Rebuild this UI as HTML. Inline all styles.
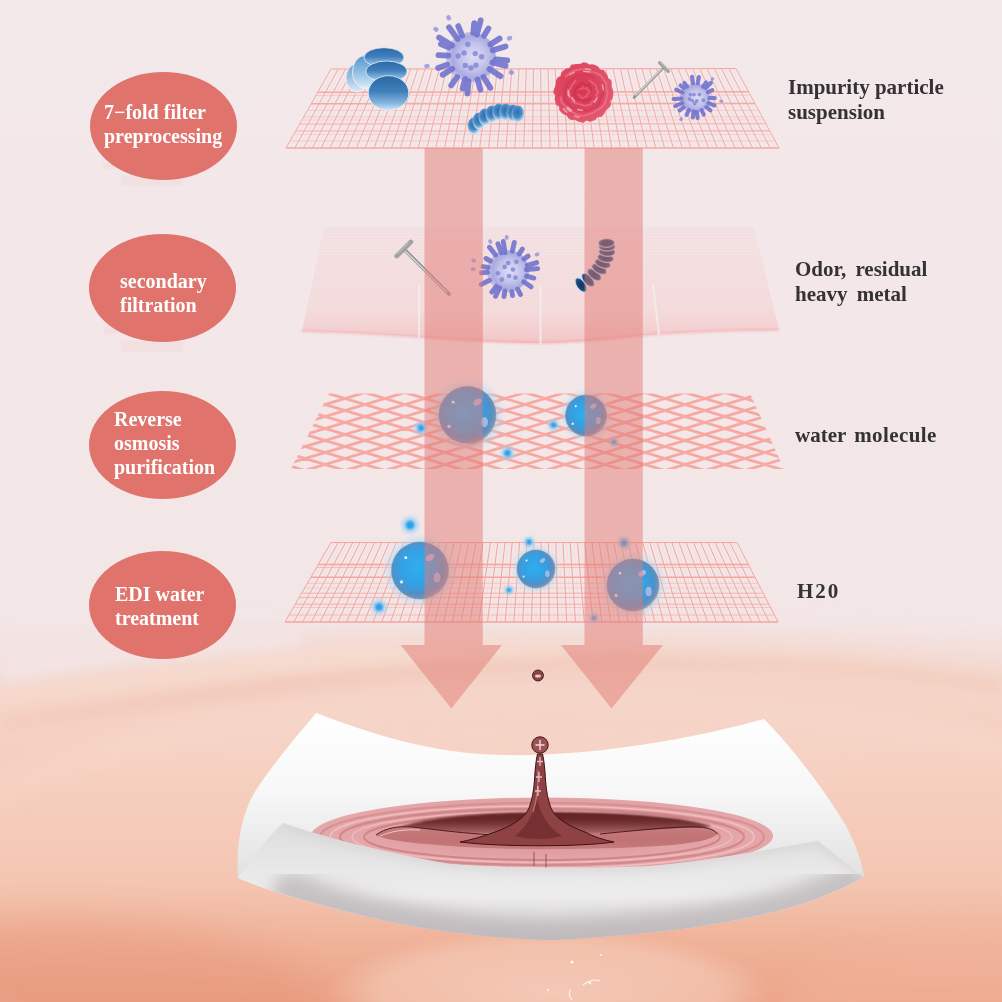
<!DOCTYPE html>
<html><head><meta charset="utf-8"><style>
html,body{margin:0;padding:0;width:1002px;height:1002px;overflow:hidden;background:#f3e8ea}
body{position:relative;font-family:"Liberation Serif",serif}
svg{position:absolute;left:0;top:0;display:block}
.ov{position:absolute;width:147px;height:108px;border-radius:50%;background:#e0736b}
.ov span{position:absolute;color:#fff;font-weight:bold;font-size:20px;line-height:24px;white-space:nowrap;will-change:transform}
.lab{position:absolute;color:#353233;font-weight:bold;font-size:21px;line-height:25px;white-space:nowrap;will-change:transform}
</style></head><body>
<svg width="1002" height="1002" viewBox="0 0 1002 1002"><defs><linearGradient id="bg" x1="0" y1="0" x2="0" y2="1002" gradientUnits="userSpaceOnUse">
<stop offset="0" stop-color="#f3e8ea"/>
<stop offset="0.62" stop-color="#f3e6e7"/>
<stop offset="0.655" stop-color="#f3dfdb"/>
<stop offset="0.70" stop-color="#f5d5c8"/>
<stop offset="0.77" stop-color="#f6d0c0"/>
<stop offset="0.88" stop-color="#f4c6b2"/>
<stop offset="0.935" stop-color="#f0b49b"/>
<stop offset="1" stop-color="#eba286"/>
</linearGradient><filter id="blur20" x="-30%" y="-30%" width="160%" height="160%"><feGaussianBlur stdDeviation="18"/></filter><filter id="blur6" x="-20%" y="-50%" width="140%" height="200%"><feGaussianBlur stdDeviation="6"/></filter><filter id="blur8" x="-20%" y="-20%" width="140%" height="140%"><feGaussianBlur stdDeviation="8"/></filter><filter id="blur4" x="-20%" y="-20%" width="140%" height="140%"><feGaussianBlur stdDeviation="4"/></filter><filter id="blur2" x="-30%" y="-30%" width="160%" height="160%"><feGaussianBlur stdDeviation="2"/></filter><filter id="blur1" x="-30%" y="-30%" width="160%" height="160%"><feGaussianBlur stdDeviation="1"/></filter><clipPath id="lowclip"><rect x="0" y="650" width="1002" height="352"/></clipPath><radialGradient id="refl" cx="0.5" cy="0.5" r="0.5">
<stop offset="0" stop-color="#f5cfbe" stop-opacity="0.85"/>
<stop offset="0.75" stop-color="#f4c8b5" stop-opacity="0.7"/>
<stop offset="1" stop-color="#f4c8b5" stop-opacity="0"/>
</radialGradient><linearGradient id="sheet" x1="0" y1="227" x2="0" y2="345" gradientUnits="userSpaceOnUse">
<stop offset="0" stop-color="#f9d0d0" stop-opacity="0.18"/>
<stop offset="0.7" stop-color="#f7c4c4" stop-opacity="0.3"/>
<stop offset="0.93" stop-color="#f5b0b0" stop-opacity="0.5"/>
<stop offset="1" stop-color="#f3a0a0" stop-opacity="0.6"/>
</linearGradient><clipPath id="sheetclip"><path d="M324 227L754 227L779 330C740 330 700 331 660 334C620 337 580 343 540 343C500 343 460 340 420 337C380 334 340 332 302 331Z"/></clipPath><clipPath id="meshclip"><path d="M329 393.5L750 393.5L784 469L291 469Z"/></clipPath><filter id="soft06" x="-20%" y="-20%" width="140%" height="140%"><feGaussianBlur stdDeviation="0.6"/></filter><filter id="soft05" x="-20%" y="-20%" width="140%" height="140%"><feGaussianBlur stdDeviation="0.5"/></filter><radialGradient id="bc" cx="0.5" cy="0.25" r="0.8">
<stop offset="0" stop-color="#2e6fae"/><stop offset="0.45" stop-color="#4f8dc6"/><stop offset="0.8" stop-color="#9cc6e6"/><stop offset="1" stop-color="#dcedf8"/>
</radialGradient><linearGradient id="dk" x1="0" y1="0" x2="0" y2="1">
<stop offset="0" stop-color="#2c68a4"/><stop offset="0.45" stop-color="#3f7fbb"/><stop offset="0.8" stop-color="#86b7df"/><stop offset="1" stop-color="#d3e9f7"/>
</linearGradient><linearGradient id="lt" x1="0" y1="0" x2="0" y2="1">
<stop offset="0" stop-color="#5b95c9"/><stop offset="0.5" stop-color="#8ebde2"/><stop offset="1" stop-color="#dcedf8"/>
</linearGradient><radialGradient id="vg11" cx="0.55" cy="0.5" r="0.5">
<stop offset="0" stop-color="#dedef5"/><stop offset="0.55" stop-color="#c2c2ea"/><stop offset="0.85" stop-color="#a9aadf"/><stop offset="1" stop-color="#a2a3dc" stop-opacity="0.6"/>
</radialGradient><radialGradient id="ch" cx="0.45" cy="0.4" r="0.6">
<stop offset="0" stop-color="#2c6dac"/><stop offset="0.55" stop-color="#4a8bc6"/><stop offset="1" stop-color="#d8ecf8"/>
</radialGradient><radialGradient id="rb" cx="0.45" cy="0.45" r="0.55">
<stop offset="0" stop-color="#d8354f"/><stop offset="0.7" stop-color="#de4862"/><stop offset="1" stop-color="#e25b72"/>
</radialGradient><radialGradient id="vg23" cx="0.55" cy="0.5" r="0.5">
<stop offset="0" stop-color="#dedef5"/><stop offset="0.55" stop-color="#c2c2ea"/><stop offset="0.85" stop-color="#a9aadf"/><stop offset="1" stop-color="#a2a3dc" stop-opacity="0.6"/>
</radialGradient><radialGradient id="vg31" cx="0.55" cy="0.5" r="0.5">
<stop offset="0" stop-color="#dedef5"/><stop offset="0.55" stop-color="#c2c2ea"/><stop offset="0.85" stop-color="#a9aadf"/><stop offset="1" stop-color="#a2a3dc" stop-opacity="0.6"/>
</radialGradient><radialGradient id="ch2" cx="0.5" cy="0.5" r="0.55">
<stop offset="0" stop-color="#0f335e"/><stop offset="0.55" stop-color="#1a4577"/><stop offset="1" stop-color="#4a7db3"/>
</radialGradient><radialGradient id="bub" cx="0.45" cy="0.45" r="0.58">
<stop offset="0" stop-color="#1eaaf0"/><stop offset="0.5" stop-color="#1f9ae4"/><stop offset="0.8" stop-color="#3f86c4"/><stop offset="0.93" stop-color="#6d88a8"/><stop offset="1" stop-color="#a9b6c8"/>
</radialGradient><radialGradient id="glow" cx="0.5" cy="0.5" r="0.5">
<stop offset="0" stop-color="#7cc8f2" stop-opacity="0.8"/><stop offset="0.72" stop-color="#9ad4f4" stop-opacity="0.55"/><stop offset="1" stop-color="#c8e6f6" stop-opacity="0"/>
</radialGradient><linearGradient id="clothBack" x1="0" y1="715" x2="0" y2="870" gradientUnits="userSpaceOnUse">
<stop offset="0" stop-color="#ffffff"/><stop offset="0.5" stop-color="#f7f7f7"/><stop offset="1" stop-color="#e3e3e4"/>
</linearGradient><linearGradient id="clothFront" x1="0" y1="825" x2="0" y2="942" gradientUnits="userSpaceOnUse">
<stop offset="0" stop-color="#dfdddd"/><stop offset="0.385" stop-color="#e9e8e8"/><stop offset="0.6" stop-color="#eeeded"/><stop offset="0.8" stop-color="#dedbdc"/><stop offset="1" stop-color="#c2bdbf"/>
</linearGradient><radialGradient id="rip" cx="0.5" cy="0.4" r="0.5">
<stop offset="0" stop-color="#d58f92"/><stop offset="0.6" stop-color="#df9ea1"/><stop offset="0.9" stop-color="#e5a8aa"/><stop offset="1" stop-color="#e4a6a8"/>
</radialGradient><linearGradient id="ripdark" x1="0" y1="810" x2="0" y2="836" gradientUnits="userSpaceOnUse">
<stop offset="0" stop-color="#5a2020"/><stop offset="0.45" stop-color="#6e2c2c"/><stop offset="1" stop-color="#b67474"/>
</linearGradient><linearGradient id="crater" x1="0" y1="826" x2="0" y2="852" gradientUnits="userSpaceOnUse">
<stop offset="0" stop-color="#c97d7f"/><stop offset="0.5" stop-color="#c07274"/><stop offset="1" stop-color="#c87c7e"/>
</linearGradient><clipPath id="flapclip"><path d="M283 823C320 836 380 852 450 864C500 868 600 869 650 866C700 862 760 851 818 841C835 855 850 866 864 877C830 895 800 907 760 915C720 924 680 931 600 937C580 939 560 940 550 940C490 939 420 930 360 915C310 902 265 890 238 878C250 860 265 840 283 823Z"/></clipPath></defs><rect width="1002" height="1002" fill="url(#bg)"/><ellipse cx="540" cy="700" rx="520" ry="65" fill="#f5d4c7" opacity="0.7" filter="url(#blur20)"/><path d="M0 625L300 625L300 648C200 656 100 668 0 684Z" fill="#f3e4e4" opacity="0.9" filter="url(#blur6)"/><path d="M0 724C150 698 350 670 560 662C750 657 900 670 1002 688" stroke="#eebfae" stroke-width="16" fill="none" opacity="0.45" filter="url(#blur6)"/><path d="M0 696C150 676 350 652 560 646" stroke="#f7dccf" stroke-width="12" fill="none" opacity="0.5" filter="url(#blur6)"/><g clip-path="url(#lowclip)"><g filter="url(#blur8)"><ellipse cx="560" cy="900" rx="660" ry="200" fill="none" stroke="#fae0d3" stroke-width="14" opacity="0.25"/><ellipse cx="560" cy="900" rx="800" ry="250" fill="none" stroke="#f9dccd" stroke-width="18" opacity="0.18"/><ellipse cx="560" cy="900" rx="730" ry="225" fill="none" stroke="#e8a48c" stroke-width="10" opacity="0.1"/></g></g><ellipse cx="60" cy="1010" rx="260" ry="90" fill="#e48f72" opacity="0.35" filter="url(#blur20)"/><ellipse cx="990" cy="1010" rx="220" ry="70" fill="#f2b8a0" opacity="0.45" filter="url(#blur20)"/><ellipse cx="550" cy="992" rx="225" ry="62" fill="url(#refl)"/><g fill="#fff" opacity="0.85"><circle cx="572" cy="962" r="1.6"/><circle cx="601" cy="955" r="1"/><circle cx="590" cy="983" r="1.2"/><circle cx="548" cy="990" r="1"/></g><path d="M583 985Q592 978 600 981M570 990Q568 996 572 1000" stroke="#fff" stroke-width="1.3" fill="none" opacity="0.7"/><g fill="#f0d2d2" opacity="0.3" filter="url(#blur1)"><rect x="103" y="163" width="12" height="6"/><rect x="121" y="176" width="62" height="10"/><rect x="104" y="326" width="14" height="8"/><rect x="121" y="341" width="62" height="11"/></g><path d="M331 69L286 148M338.2 69L294.8 148M345.5 69L303.6 148M352.7 69L312.4 148M359.9 69L321.2 148M367.2 69L330 148M374.4 68.9L338.8 148M381.6 68.9L347.6 148M388.9 68.9L356.4 148M396.1 68.9L365.2 148M403.3 68.9L374 148M410.6 68.9L382.8 148M417.8 68.9L391.6 148M425 68.9L400.4 148M432.2 68.9L409.2 148M439.5 68.9L418.1 148M446.7 68.9L426.9 148M453.9 68.8L435.7 148M461.2 68.8L444.5 148M468.4 68.8L453.3 148M475.6 68.8L462.1 148M482.9 68.8L470.9 148M490.1 68.8L479.7 148M497.3 68.8L488.5 148M504.6 68.8L497.3 148M511.8 68.8L506.1 148M519 68.8L514.9 148M526.3 68.8L523.7 148M533.5 68.8L532.5 148M540.7 68.7L541.3 148M548 68.7L550.1 148M555.2 68.7L558.9 148M562.4 68.7L567.7 148M569.7 68.7L576.5 148M576.9 68.7L585.3 148M584.1 68.7L594.1 148M591.4 68.7L602.9 148M598.6 68.7L611.7 148M605.8 68.7L620.5 148M613.1 68.7L629.3 148M620.3 68.6L638.1 148M627.5 68.6L646.9 148M634.8 68.6L655.8 148M642 68.6L664.6 148M649.2 68.6L673.4 148M656.4 68.6L682.2 148M663.7 68.6L691 148M670.9 68.6L699.8 148M678.1 68.6L708.6 148M685.4 68.6L717.4 148M692.6 68.6L726.2 148M699.8 68.5L735 148M707.1 68.5L743.8 148M714.3 68.5L752.6 148M721.5 68.5L761.4 148M728.8 68.5L770.2 148M736 68.5L779 148" stroke="#f7a9a3" stroke-width="1.0" fill="none"/><path d="M334.6 69L290.4 148M341.8 69L299.2 148M349.1 69L308 148M356.3 69L316.8 148M363.5 69L325.6 148M370.8 69L334.4 148M378 68.9L343.2 148M385.2 68.9L352 148M392.5 68.9L360.8 148M399.7 68.9L369.6 148M406.9 68.9L378.4 148M414.2 68.9L387.2 148M421.4 68.9L396 148M428.6 68.9L404.8 148M435.9 68.9L413.7 148M443.1 68.9L422.5 148M450.3 68.9L431.3 148M457.6 68.8L440.1 148M464.8 68.8L448.9 148M472 68.8L457.7 148M479.3 68.8L466.5 148M486.5 68.8L475.3 148M493.7 68.8L484.1 148M501 68.8L492.9 148M508.2 68.8L501.7 148M515.4 68.8L510.5 148M522.7 68.8L519.3 148M529.9 68.8L528.1 148M537.1 68.7L536.9 148M544.3 68.7L545.7 148M551.6 68.7L554.5 148M558.8 68.7L563.3 148M566 68.7L572.1 148M573.3 68.7L580.9 148M580.5 68.7L589.7 148M587.7 68.7L598.5 148M595 68.7L607.3 148M602.2 68.7L616.1 148M609.4 68.7L624.9 148M616.7 68.6L633.7 148M623.9 68.6L642.5 148M631.1 68.6L651.3 148M638.4 68.6L660.2 148M645.6 68.6L669 148M652.8 68.6L677.8 148M660.1 68.6L686.6 148M667.3 68.6L695.4 148M674.5 68.6L704.2 148M681.8 68.6L713 148M689 68.6L721.8 148M696.2 68.5L730.6 148M703.5 68.5L739.4 148M710.7 68.5L748.2 148M717.9 68.5L757 148M725.2 68.5L765.8 148M732.4 68.5L774.6 148" stroke="#f7a9a3" stroke-width="0.6" fill="none" opacity="0.2"/><path d="M331 69L736 68.5" stroke="#f7a9a3" stroke-width="1.2" opacity="1"/><path d="M317.8 92.2L748.6 91.8" stroke="#f7a9a3" stroke-width="1.5" opacity="1"/><path d="M316 95.4L750.4 95.1" stroke="#f7a9a3" stroke-width="0.8" opacity="0.6"/><path d="M311.2 103.8L754.9 103.5" stroke="#f7a9a3" stroke-width="1.6" opacity="1"/><path d="M307.4 110.5L758.6 110.3" stroke="#f7a9a3" stroke-width="0.8" opacity="0.6"/><path d="M303.7 117L762.1 116.8" stroke="#f7a9a3" stroke-width="0.8" opacity="0.6"/><path d="M301.9 120L763.8 119.8" stroke="#f7a9a3" stroke-width="0.7" opacity="0.5"/><path d="M299.7 124L765.9 123.8" stroke="#f7a9a3" stroke-width="1.1" opacity="0.9"/><path d="M295.7 131L769.7 130.9" stroke="#f7a9a3" stroke-width="1.1" opacity="0.9"/><path d="M293.7 134.5L771.7 134.4" stroke="#f7a9a3" stroke-width="0.7" opacity="0.5"/><path d="M290 141L775.2 141" stroke="#f7a9a3" stroke-width="0.8" opacity="0.6"/><path d="M286 148L779 148" stroke="#f7a9a3" stroke-width="1.3" opacity="1"/><path d="M324 227L754 227L779 330C740 330 700 331 660 334C620 337 580 343 540 343C500 343 460 340 420 337C380 334 340 332 302 331Z" fill="url(#sheet)"/><path d="M300 229L780 229M300 232L780 232M300 235L780 235M300 238L780 238M300 241L780 241M300 244L780 244M300 247L780 247M300 250L780 250M300 253L780 253M300 256L780 256M300 259L780 259M300 262L780 262M300 265L780 265M300 268L780 268M300 271L780 271M300 274L780 274M300 277L780 277M300 280L780 280M300 283L780 283M300 286L780 286M300 289L780 289M300 292L780 292M300 295L780 295M300 298L780 298M300 301L780 301M300 304L780 304M300 307L780 307M300 310L780 310M300 313L780 313M300 316L780 316M300 319L780 319M300 322L780 322M300 325L780 325M300 328L780 328M300 331L780 331M300 334L780 334M300 337L780 337M300 340L780 340M300 343L780 343" stroke="#f4c0c0" stroke-width="0.6" opacity="0.2" clip-path="url(#sheetclip)"/><path d="M302 331C340 332 380 334 420 337C460 340 500 343 540 343C580 343 620 337 660 334C700 331 740 330 779 330" stroke="#f3a6a6" stroke-width="2.2" fill="none" opacity="0.6" filter="url(#blur1)"/><path d="M419.2 285L419 338M540.5 285L540.5 344M653 285L659 335" stroke="#f6eef0" stroke-width="2" opacity="0.8"/><path d="M250 -326L800 -161M250 -161L800 -326M250 -314L800 -149M250 -149L800 -314M250 -302L800 -137M250 -137L800 -302M250 -290L800 -125M250 -125L800 -290M250 -278L800 -113M250 -113L800 -278M250 -266L800 -101M250 -101L800 -266M250 -254L800 -89M250 -89L800 -254M250 -242L800 -77M250 -77L800 -242M250 -230L800 -65M250 -65L800 -230M250 -218L800 -53M250 -53L800 -218M250 -206L800 -41M250 -41L800 -206M250 -194L800 -29M250 -29L800 -194M250 -182L800 -17M250 -17L800 -182M250 -170L800 -5M250 -5L800 -170M250 -158L800 7M250 7L800 -158M250 -146L800 19M250 19L800 -146M250 -134L800 31M250 31L800 -134M250 -122L800 43M250 43L800 -122M250 -110L800 55M250 55L800 -110M250 -98L800 67M250 67L800 -98M250 -86L800 79M250 79L800 -86M250 -74L800 91M250 91L800 -74M250 -62L800 103M250 103L800 -62M250 -50L800 115M250 115L800 -50M250 -38L800 127M250 127L800 -38M250 -26L800 139M250 139L800 -26M250 -14L800 151M250 151L800 -14M250 -2L800 163M250 163L800 -2M250 10L800 175M250 175L800 10M250 22L800 187M250 187L800 22M250 34L800 199M250 199L800 34M250 46L800 211M250 211L800 46M250 58L800 223M250 223L800 58M250 70L800 235M250 235L800 70M250 82L800 247M250 247L800 82M250 94L800 259M250 259L800 94M250 106L800 271M250 271L800 106M250 118L800 283M250 283L800 118M250 130L800 295M250 295L800 130M250 142L800 307M250 307L800 142M250 154L800 319M250 319L800 154M250 166L800 331M250 331L800 166M250 178L800 343M250 343L800 178M250 190L800 355M250 355L800 190M250 202L800 367M250 367L800 202M250 214L800 379M250 379L800 214M250 226L800 391M250 391L800 226M250 238L800 403M250 403L800 238M250 250L800 415M250 415L800 250M250 262L800 427M250 427L800 262M250 274L800 439M250 439L800 274M250 286L800 451M250 451L800 286M250 298L800 463M250 463L800 298M250 310L800 475M250 475L800 310M250 322L800 487M250 487L800 322M250 334L800 499M250 499L800 334M250 346L800 511M250 511L800 346M250 358L800 523M250 523L800 358M250 370L800 535M250 535L800 370M250 382L800 547M250 547L800 382M250 394L800 559M250 559L800 394M250 406L800 571M250 571L800 406M250 418L800 583M250 583L800 418M250 430L800 595M250 595L800 430M250 442L800 607M250 607L800 442M250 454L800 619M250 619L800 454M250 466L800 631M250 631L800 466M250 478L800 643M250 643L800 478M250 490L800 655M250 655L800 490M250 502L800 667M250 667L800 502M250 514L800 679M250 679L800 514M250 526L800 691M250 691L800 526M250 538L800 703M250 703L800 538M250 550L800 715M250 715L800 550M250 562L800 727M250 727L800 562M250 574L800 739M250 739L800 574M250 586L800 751M250 751L800 586M250 598L800 763M250 763L800 598M250 610L800 775M250 775L800 610M250 622L800 787M250 787L800 622M250 634L800 799M250 799L800 634M250 646L800 811M250 811L800 646M250 658L800 823M250 823L800 658M250 670L800 835M250 835L800 670M250 682L800 847M250 847L800 682M250 694L800 859M250 859L800 694M250 706L800 871M250 871L800 706M250 718L800 883M250 883L800 718M250 730L800 895M250 895L800 730M250 742L800 907M250 907L800 742M250 754L800 919M250 919L800 754M250 766L800 931M250 931L800 766M250 778L800 943M250 943L800 778M250 790L800 955M250 955L800 790M250 802L800 967M250 967L800 802M250 814L800 979M250 979L800 814M250 826L800 991M250 991L800 826M250 838L800 1003M250 1003L800 838M250 850L800 1015M250 1015L800 850M250 862L800 1027M250 1027L800 862M250 874L800 1039M250 1039L800 874M250 886L800 1051M250 1051L800 886M250 898L800 1063M250 1063L800 898M250 910L800 1075M250 1075L800 910M250 922L800 1087M250 1087L800 922M250 934L800 1099M250 1099L800 934M250 946L800 1111M250 1111L800 946M250 958L800 1123M250 1123L800 958M250 970L800 1135M250 1135L800 970M250 982L800 1147M250 1147L800 982M250 994L800 1159M250 1159L800 994M250 1006L800 1171M250 1171L800 1006M250 1018L800 1183M250 1183L800 1018M250 1030L800 1195M250 1195L800 1030M250 1042L800 1207M250 1207L800 1042M250 1054L800 1219M250 1219L800 1054M250 1066L800 1231M250 1231L800 1066M250 1078L800 1243M250 1243L800 1078M250 1090L800 1255M250 1255L800 1090M250 1102L800 1267M250 1267L800 1102" stroke="#f7a8a2" stroke-width="2.8" fill="none" clip-path="url(#meshclip)"/><path d="M331 542.5L285 622M338.2 542.5L293.8 622M345.5 542.5L302.6 622M352.8 542.5L311.4 622M360 542.5L320.2 622M367.2 542.5L329 622M374.5 542.5L337.8 622M381.8 542.5L346.6 622M389 542.5L355.4 622M396.2 542.5L364.2 622M403.5 542.5L373 622M410.8 542.5L381.8 622M418 542.5L390.6 622M425.2 542.5L399.4 622M432.5 542.5L408.2 622M439.8 542.5L417.1 622M447 542.5L425.9 622M454.2 542.5L434.7 622M461.5 542.5L443.5 622M468.8 542.5L452.3 622M476 542.5L461.1 622M483.2 542.5L469.9 622M490.5 542.5L478.7 622M497.8 542.5L487.5 622M505 542.5L496.3 622M512.2 542.5L505.1 622M519.5 542.5L513.9 622M526.8 542.5L522.7 622M534 542.5L531.5 622M541.2 542.5L540.3 622M548.5 542.5L549.1 622M555.8 542.5L557.9 622M563 542.5L566.7 622M570.2 542.5L575.5 622M577.5 542.5L584.3 622M584.8 542.5L593.1 622M592 542.5L601.9 622M599.2 542.5L610.7 622M606.5 542.5L619.5 622M613.8 542.5L628.3 622M621 542.5L637.1 622M628.2 542.5L645.9 622M635.5 542.5L654.8 622M642.8 542.5L663.6 622M650 542.5L672.4 622M657.2 542.5L681.2 622M664.5 542.5L690 622M671.8 542.5L698.8 622M679 542.5L707.6 622M686.2 542.5L716.4 622M693.5 542.5L725.2 622M700.8 542.5L734 622M708 542.5L742.8 622M715.2 542.5L751.6 622M722.5 542.5L760.4 622M729.8 542.5L769.2 622M737 542.5L778 622" stroke="#f6a49e" stroke-width="1.0" fill="none"/><path d="M334.6 542.5L289.4 622M341.9 542.5L298.2 622M349.1 542.5L307 622M356.4 542.5L315.8 622M363.6 542.5L324.6 622M370.9 542.5L333.4 622M378.1 542.5L342.2 622M385.4 542.5L351 622M392.6 542.5L359.8 622M399.9 542.5L368.6 622M407.1 542.5L377.4 622M414.4 542.5L386.2 622M421.6 542.5L395 622M428.9 542.5L403.8 622M436.1 542.5L412.7 622M443.4 542.5L421.5 622M450.6 542.5L430.3 622M457.9 542.5L439.1 622M465.1 542.5L447.9 622M472.4 542.5L456.7 622M479.6 542.5L465.5 622M486.9 542.5L474.3 622M494.1 542.5L483.1 622M501.4 542.5L491.9 622M508.6 542.5L500.7 622M515.9 542.5L509.5 622M523.1 542.5L518.3 622M530.4 542.5L527.1 622M537.6 542.5L535.9 622M544.9 542.5L544.7 622M552.1 542.5L553.5 622M559.4 542.5L562.3 622M566.6 542.5L571.1 622M573.9 542.5L579.9 622M581.1 542.5L588.7 622M588.4 542.5L597.5 622M595.6 542.5L606.3 622M602.9 542.5L615.1 622M610.1 542.5L623.9 622M617.4 542.5L632.7 622M624.6 542.5L641.5 622M631.9 542.5L650.3 622M639.1 542.5L659.2 622M646.4 542.5L668 622M653.6 542.5L676.8 622M660.9 542.5L685.6 622M668.1 542.5L694.4 622M675.4 542.5L703.2 622M682.6 542.5L712 622M689.9 542.5L720.8 622M697.1 542.5L729.6 622M704.4 542.5L738.4 622M711.6 542.5L747.2 622M718.9 542.5L756 622M726.1 542.5L764.8 622M733.4 542.5L773.6 622" stroke="#f6a49e" stroke-width="0.6" fill="none" opacity="0.2"/><path d="M331 542.5L737 542.5" stroke="#f6a49e" stroke-width="1.2" opacity="1"/><path d="M318.2 564.6L748.4 564.6" stroke="#f6a49e" stroke-width="1.5" opacity="1"/><path d="M316.6 567.4L749.8 567.4" stroke="#f6a49e" stroke-width="0.9" opacity="0.7"/><path d="M310.9 577.3L754.9 577.3" stroke="#f6a49e" stroke-width="1.6" opacity="1"/><path d="M307.4 583.3L758 583.3" stroke="#f6a49e" stroke-width="0.8" opacity="0.6"/><path d="M304.7 588L760.5 588" stroke="#f6a49e" stroke-width="0.7" opacity="0.5"/><path d="M301.7 593.2L763.1 593.2" stroke="#f6a49e" stroke-width="1.0" opacity="0.8"/><path d="M299.1 597.6L765.4 597.6" stroke="#f6a49e" stroke-width="1.0" opacity="0.8"/><path d="M295.3 604.2L768.8 604.2" stroke="#f6a49e" stroke-width="1.0" opacity="0.8"/><path d="M293.4 607.4L770.5 607.4" stroke="#f6a49e" stroke-width="0.8" opacity="0.6"/><path d="M289.1 615L774.4 615" stroke="#f6a49e" stroke-width="0.9" opacity="0.7"/><path d="M285 622L778 622" stroke="#f6a49e" stroke-width="1.3" opacity="1"/><g filter="url(#soft05)"><ellipse cx="357" cy="78" rx="11" ry="14" fill="url(#lt)" opacity="0.85" stroke="#eef7fc" stroke-width="0.8"/><ellipse cx="365" cy="72" rx="12.5" ry="16.5" fill="url(#lt)" stroke="#eef7fc" stroke-width="0.8"/><ellipse cx="384" cy="57.5" rx="20" ry="9.8" fill="url(#dk)" stroke="#e6f2fa" stroke-width="0.8"/><ellipse cx="386.5" cy="71.5" rx="20.5" ry="10.5" fill="url(#dk)" stroke="#e6f2fa" stroke-width="0.8"/><ellipse cx="388.5" cy="93" rx="20.3" ry="17.3" fill="url(#dk)" stroke="#e6f2fa" stroke-width="0.8"/></g><g filter="url(#soft06)"><circle cx="471" cy="57" r="25" fill="url(#vg11)"/><circle cx="481.6" cy="56.7" r="2.7" fill="#8083d3" opacity="0.8"/><circle cx="475.9" cy="65.3" r="2.7" fill="#8083d3" opacity="0.8"/><circle cx="470.9" cy="67.9" r="2.7" fill="#8083d3" opacity="0.8"/><circle cx="465.3" cy="65.4" r="2.7" fill="#8083d3" opacity="0.8"/><circle cx="458.1" cy="56" r="2.7" fill="#8083d3" opacity="0.8"/><circle cx="464.1" cy="52.9" r="2.7" fill="#8083d3" opacity="0.8"/><circle cx="467.8" cy="44.3" r="2.7" fill="#8083d3" opacity="0.8"/><circle cx="475.2" cy="53.6" r="2.7" fill="#8083d3" opacity="0.8"/><path d="M495.8 59.4L507.3 60.5M492.4 62.4L505.5 65.7M489.5 69L500.5 76.2M483.5 77L490.3 87.8M477.5 79.5L480.4 89.6M468.6 81.4L467.4 93.6M465.1 79.1L462.6 88.4M457 77.1L451.2 85.4M452.3 68.7L442.7 74.7M447.3 64.8L438.1 67.9M448.2 55.7L438.5 55.2M448.7 47.4L440.9 44M452.1 45.4L439.1 37.5M457.5 38.9L449 27.3M462.1 35.5L458.3 26.1M473.3 32.7L474.2 23.1M476.9 34.6L480.6 20.4M484 35.7L488.4 28.5M490.3 44.5L499.6 38.5M492.7 50.3L505.5 46.4" stroke="#6e71cf" stroke-width="5.8" stroke-linecap="round" opacity="0.88"/><path d="M510.9 72.3L511.9 72.6M427.4 65.9L426.4 66.1M436.3 29.6L435.5 29M448.9 18.3L448.4 17.4M509.1 38.4L510 38" stroke="#8285d8" stroke-width="4.4" stroke-linecap="round" opacity="0.7"/></g><g filter="url(#soft05)"><ellipse cx="474" cy="126" rx="6.5" ry="8.5" fill="url(#ch)"/><ellipse cx="479" cy="121" rx="6.5" ry="8.5" fill="url(#ch)"/><ellipse cx="485" cy="117" rx="6.5" ry="8.5" fill="url(#ch)"/><ellipse cx="492" cy="114" rx="6.5" ry="8.5" fill="url(#ch)"/><ellipse cx="499" cy="112" rx="6.5" ry="8.5" fill="url(#ch)"/><ellipse cx="506" cy="112" rx="6.5" ry="8.5" fill="url(#ch)"/><ellipse cx="513" cy="113" rx="6.5" ry="8.5" fill="url(#ch)"/><ellipse cx="518" cy="114" rx="6.5" ry="8.5" fill="url(#ch)"/></g><g filter="url(#soft05)"><path d="M613.5 92.5L613.1 95.6L612.6 98.7L610.5 101.3L611.1 104.8L609.4 107.5L607 109.5L605.1 111.9L603.6 114.8L601.2 116.9L597.7 117.1L595.6 119.7L592.7 120.9L589.7 121.8L586.5 120.6L583.5 122.7L580.4 122.2L577.4 121.2L574.6 119.8L571.2 120.1L568.5 118.5L566.7 115.6L563.7 114.5L561.3 112.5L559.2 110.1L559.1 106.6L555.9 104.8L555.2 101.7L554.6 98.6L555.2 95.5L553.2 92.5L553.8 89.4L555.2 86.5L555.7 83.5L556 80.3L557.6 77.5L560.6 75.8L561.2 72.4L563.6 70.4L566 68.4L569.4 68L571.1 64.7L574.3 64.2L577.4 64L580.5 63.8L583.5 62.2L586.6 62.8L589.4 64.6L592.7 64.2L595.7 65.2L598.4 66.7L600.1 69.6L603.8 70L605.6 72.6L607.3 75.2L608.3 78.2L611.3 80.1L611.7 83.3L611.7 86.5L612.7 89.4Z" fill="url(#rb)"/><path d="M565.9 76.3L570 73L574.7 70.4L580.1 69.5L585.5 69L590.3 71.6L595.4 72.8L600.3 75L603.4 79.3L606.4 83.5L606.4 88.7L607.4 93.6L606.2 98.4L604.8 103.2L601.8 107.4L597.3 110L593.1 112.8L588.2 114.4L583.1 116.1L577.7 115.1L573.2 112.4L568.1 110.7L565.3 106.3L561.7 102.6L560.9 97.6" stroke="#f07f95" stroke-width="2.2" fill="none" opacity="0.55" stroke-linecap="round"/><path d="M603.2 92.7L601.4 96.5L600.1 100.1L599.1 104.3L595.9 107.1L591.7 108.3L588.2 110.9L583.9 110.6L579.6 110.5L576 108.5L571.6 107.6L568.8 104.5L565.9 101.4L564.4 97.5L564.9 93.4L565 89.5L566.5 85.9L568.5 82.6L571.3 79.8L574.2 77.2L577.8 75.1L582 75.4L586.2 74.3L590.1 75.9L593.7 77.7" stroke="#c93350" stroke-width="2.0" fill="none" opacity="0.5" stroke-linecap="round"/><path d="M589.3 80.4L591.7 82.2L594.2 83.9L596.3 86.1L596.2 89.3L598.4 91.9L596.3 94.7L596.9 97.8L595.5 100.6L592.2 101.7L590.7 104.6L587.5 105L584.5 105.9L581.6 104.7L578.8 104.1L576.1 103.1L572.7 102.3L572 99.1L569.7 96.9L568.7 94L568.7 90.9L570.6 88.2L571.9 85.6L573.5 83.2L575.6 80.9" stroke="#ef8599" stroke-width="1.8" fill="none" opacity="0.5" stroke-linecap="round"/><path d="M590.9 98.2L589.5 99.6L587.7 100.8L585.4 100L583.6 101.9L581.8 100.1L579.9 100L577.9 99.5L576 98.5L575.8 96.3L574 94.9L574.4 92.9L575 91.1L575.5 89.3L576.7 87.9L578 86.7L579.4 85.6L580.8 84L582.8 83L584.7 84.7L586.4 85.3L589 84.6L590 86.5L591 88.2L591.5 89.9" stroke="#c42e4b" stroke-width="2.0" fill="none" opacity="0.55" stroke-linecap="round"/><path d="M578.8 89.5L580.1 89.1L581 88.6L582.2 88.8L582.9 87L584 88.7L585.2 88L586.5 87.9L586.5 89.6L588.1 89.7L589 90.6L588.7 91.8L589.1 93L587.5 93.7L587.7 94.8L586.7 95.3L586.7 96.9L585.2 96.5L584.3 97.1L583.2 98.2L581.9 97.7L580.7 97.5L580.3 96L579.5 95.3L578.5 94.6" stroke="#ec7a90" stroke-width="1.6" fill="none" opacity="0.5" stroke-linecap="round"/><path d="M569.3 96.9L568.6 92M574.8 101.6L571.9 97.5M566.8 112.3L563.3 108.8M602.2 85L603.5 89.9M568.1 95.1L568.1 90.1M597 98L594.3 102.2M585.8 68.6L590.7 69.6M570.9 111.4L567.1 108.2M584.3 71.3L589.2 72M569.9 74.8L574.2 72.2M571.5 110.2L567.7 107M582.5 110.4L577.6 109.5M583.6 71.3L588.5 71.9M579.1 117.4L574.3 116" stroke="#f7c2cc" stroke-width="1.3" opacity="0.75" stroke-linecap="round"/></g><g filter="url(#soft05)"><path d="M664 67L634 97.5" stroke="#959595" stroke-width="2.6" stroke-linecap="round"/><path d="M661.5 68.8L635.9 95.2" stroke="#dcdcdc" stroke-width="1.2" stroke-linecap="round"/><path d="M659.7 62.8L668.3 71.2" stroke="#a2a2a2" stroke-width="3.4" stroke-linecap="round"/><path d="M661.3 62.9L668.1 69.7" stroke="#c8c8c8" stroke-width="1" stroke-linecap="round"/></g><g filter="url(#soft06)"><circle cx="695" cy="98" r="15" fill="url(#vg23)"/><circle cx="703.4" cy="100.2" r="1.9" fill="#8083d3" opacity="0.8"/><circle cx="696.8" cy="101" r="1.9" fill="#8083d3" opacity="0.8"/><circle cx="694.7" cy="103.5" r="1.9" fill="#8083d3" opacity="0.8"/><circle cx="692.3" cy="100.6" r="1.9" fill="#8083d3" opacity="0.8"/><circle cx="689.4" cy="99" r="1.9" fill="#8083d3" opacity="0.8"/><circle cx="690.3" cy="94.7" r="1.9" fill="#8083d3" opacity="0.8"/><circle cx="694" cy="94.6" r="1.9" fill="#8083d3" opacity="0.8"/><circle cx="699.4" cy="94.6" r="1.9" fill="#8083d3" opacity="0.8"/><path d="M709.5 98L714.8 98.1M708.4 103.2L714.4 105.5M706.4 107.1L710.5 110.3M701.5 110.1L703.8 114.5M696.9 112.1L697.6 118M693.5 111.4L692.8 117.5M689 110L686.6 114.8M683.6 107.3L679.7 110.4M682.3 103.2L675.2 106.2M681.6 98.6L673.6 99M682.5 92.5L676.2 89.7M683.8 88.2L680.6 85.5M687 86.6L684.4 82.9M693 83.2L692.1 76.7M697.7 83.3L698.9 77M703 86.7L706.1 82.4M705.8 87.8L711 82.8M707.9 92.1L712.3 90.1" stroke="#6e71cf" stroke-width="4.1" stroke-linecap="round" opacity="0.88"/><path d="M720.8 101.2L721.7 101.3M681.4 118.7L680.8 119.5M712 79.3L712.7 78.6" stroke="#8285d8" stroke-width="3.1" stroke-linecap="round" opacity="0.7"/></g><g filter="url(#soft05)"><path d="M403.8 249L449 294" stroke="#959595" stroke-width="3.6" stroke-linecap="round"/><path d="M405.6 251.5L446.7 292.1" stroke="#dcdcdc" stroke-width="1.2" stroke-linecap="round"/><path d="M396.7 256.1L410.9 241.9" stroke="#a2a2a2" stroke-width="4.7" stroke-linecap="round"/><path d="M397.4 254L408.7 242.6" stroke="#c8c8c8" stroke-width="1" stroke-linecap="round"/></g><g filter="url(#soft06)"><circle cx="508" cy="271" r="21" fill="url(#vg31)"/><circle cx="512.9" cy="269.5" r="2.3" fill="#8083d3" opacity="0.8"/><circle cx="515.5" cy="277.6" r="2.3" fill="#8083d3" opacity="0.8"/><circle cx="509.1" cy="276" r="2.3" fill="#8083d3" opacity="0.8"/><circle cx="501.8" cy="279.6" r="2.3" fill="#8083d3" opacity="0.8"/><circle cx="497.8" cy="273.2" r="2.3" fill="#8083d3" opacity="0.8"/><circle cx="504.6" cy="266.9" r="2.3" fill="#8083d3" opacity="0.8"/><circle cx="508.2" cy="263" r="2.3" fill="#8083d3" opacity="0.8"/><circle cx="516.4" cy="261.7" r="2.3" fill="#8083d3" opacity="0.8"/><path d="M526.5 269.5L537.7 268.6M526.6 276.2L533.8 278.1M523.7 281.8L531 286.8M517.7 289.2L520.5 294.6M511.8 291.6L512.5 295.6M504.9 290.9L504 296.6M499.6 288L495.5 296.3M496.3 286.4L491.9 292.1M489.6 280.3L481.3 284.4M487.6 272.4L481.6 272.8M488.1 267.5L483.1 266.6M490.4 261L486 258.5M495.6 255.1L489.5 247.3M501.2 252.6L498 243.8M505 252.5L503.3 241.4M512.3 251.2L514.3 242.4M519.2 253.9L522.4 249M524.1 259L528.1 256.1M527.4 265.3L536.7 262.6" stroke="#6e71cf" stroke-width="4.9" stroke-linecap="round" opacity="0.88"/><path d="M473.6 269.2L472.6 269.1M474.1 260.7L473.2 260.4M490.5 241.9L490 241.1M506.7 237.9L506.7 236.9M536.6 254.6L537.5 254.2" stroke="#8285d8" stroke-width="3.7" stroke-linecap="round" opacity="0.7"/></g><g filter="url(#soft06)"><ellipse cx="581" cy="285" rx="4.4" ry="8.3" fill="url(#ch2)" stroke="#d5e6f4" stroke-width="0.8" transform="rotate(-35 581 285)"/><ellipse cx="588" cy="280" rx="4.4" ry="8.3" fill="url(#ch2)" stroke="#d5e6f4" stroke-width="0.8" transform="rotate(-42 588 280)"/><ellipse cx="594.3" cy="274.7" rx="4.4" ry="8.3" fill="url(#ch2)" stroke="#d5e6f4" stroke-width="0.8" transform="rotate(-52 594.3 274.7)"/><ellipse cx="599.2" cy="269" rx="4.4" ry="8.3" fill="url(#ch2)" stroke="#d5e6f4" stroke-width="0.8" transform="rotate(-62 599.2 269)"/><ellipse cx="602.7" cy="263.5" rx="4.4" ry="8.3" fill="url(#ch2)" stroke="#d5e6f4" stroke-width="0.8" transform="rotate(-72 602.7 263.5)"/><ellipse cx="605.5" cy="258" rx="4.4" ry="8.3" fill="url(#ch2)" stroke="#d5e6f4" stroke-width="0.8" transform="rotate(-80 605.5 258)"/><ellipse cx="607" cy="252" rx="4.4" ry="8.3" fill="url(#ch2)" stroke="#d5e6f4" stroke-width="0.8" transform="rotate(-86 607 252)"/><ellipse cx="607" cy="246.8" rx="4.4" ry="8.3" fill="url(#ch2)" stroke="#d5e6f4" stroke-width="0.8" transform="rotate(-90 607 246.8)"/><ellipse cx="606.5" cy="243" rx="4.4" ry="8.3" fill="url(#ch2)" stroke="#d5e6f4" stroke-width="0.8" transform="rotate(-92 606.5 243)"/></g><circle cx="467.5" cy="415" r="38.5" fill="url(#glow)"/><circle cx="467.5" cy="415" r="28.5" fill="url(#bub)" opacity="0.86" stroke="#6a8098" stroke-width="1" stroke-opacity="0.5"/><circle cx="453.2" cy="402.2" r="1.4" fill="#fff"/><circle cx="449" cy="426.4" r="1.7" fill="#fff" opacity="0.8"/><ellipse cx="477.5" cy="402.2" rx="4.6" ry="2.9" fill="#e9c2dd" opacity="0.7" transform="rotate(-35 477.5 402.2)"/><ellipse cx="484.6" cy="422.1" rx="3.4" ry="5.1" fill="#c8c4ea" opacity="0.7"/><circle cx="586" cy="415.5" r="27.7" fill="url(#glow)"/><circle cx="586" cy="415.5" r="20.5" fill="url(#bub)" opacity="0.86" stroke="#6a8098" stroke-width="1" stroke-opacity="0.5"/><circle cx="575.8" cy="406.3" r="1" fill="#fff"/><circle cx="572.7" cy="423.7" r="1.2" fill="#fff" opacity="0.8"/><ellipse cx="593.2" cy="406.3" rx="3.3" ry="2.1" fill="#e9c2dd" opacity="0.7" transform="rotate(-35 593.2 406.3)"/><ellipse cx="598.3" cy="420.6" rx="2.5" ry="3.7" fill="#c8c4ea" opacity="0.7"/><g filter="url(#blur1)"><circle cx="421" cy="428" r="8.4" fill="url(#glow)"/><circle cx="421" cy="428" r="3.5" fill="#2aa2ea"/></g><g filter="url(#blur1)"><circle cx="507.5" cy="453" r="8.4" fill="url(#glow)"/><circle cx="507.5" cy="453" r="3.5" fill="#2aa2ea"/></g><g filter="url(#blur1)"><circle cx="553.5" cy="425" r="7.2" fill="url(#glow)"/><circle cx="553.5" cy="425" r="3" fill="#2aa2ea"/></g><g filter="url(#blur1)"><circle cx="614" cy="442" r="6" fill="url(#glow)"/><circle cx="614" cy="442" r="2.5" fill="#2aa2ea"/></g><circle cx="420" cy="570.5" r="38.5" fill="url(#glow)"/><circle cx="420" cy="570.5" r="28.5" fill="url(#bub)" opacity="0.86" stroke="#6a8098" stroke-width="1" stroke-opacity="0.5"/><circle cx="405.8" cy="557.7" r="1.4" fill="#fff"/><circle cx="401.5" cy="581.9" r="1.7" fill="#fff" opacity="0.8"/><ellipse cx="430" cy="557.7" rx="4.6" ry="2.9" fill="#e9c2dd" opacity="0.7" transform="rotate(-35 430 557.7)"/><ellipse cx="437.1" cy="577.6" rx="3.4" ry="5.1" fill="#c8c4ea" opacity="0.7"/><circle cx="536" cy="569" r="25.7" fill="url(#glow)"/><circle cx="536" cy="569" r="19" fill="url(#bub)" opacity="0.86" stroke="#6a8098" stroke-width="1" stroke-opacity="0.5"/><circle cx="526.5" cy="560.5" r="1" fill="#fff"/><circle cx="523.6" cy="576.6" r="1.1" fill="#fff" opacity="0.8"/><ellipse cx="542.6" cy="560.5" rx="3" ry="1.9" fill="#e9c2dd" opacity="0.7" transform="rotate(-35 542.6 560.5)"/><ellipse cx="547.4" cy="573.8" rx="2.3" ry="3.4" fill="#c8c4ea" opacity="0.7"/><circle cx="633" cy="585" r="35.1" fill="url(#glow)"/><circle cx="633" cy="585" r="26" fill="url(#bub)" opacity="0.86" stroke="#6a8098" stroke-width="1" stroke-opacity="0.5"/><circle cx="620" cy="573.3" r="1.3" fill="#fff"/><circle cx="616.1" cy="595.4" r="1.6" fill="#fff" opacity="0.8"/><ellipse cx="642.1" cy="573.3" rx="4.2" ry="2.6" fill="#e9c2dd" opacity="0.7" transform="rotate(-35 642.1 573.3)"/><ellipse cx="648.6" cy="591.5" rx="3.1" ry="4.7" fill="#c8c4ea" opacity="0.7"/><g filter="url(#blur1)"><circle cx="410" cy="525" r="10.8" fill="url(#glow)"/><circle cx="410" cy="525" r="4.5" fill="#2aa2ea"/></g><g filter="url(#blur1)"><circle cx="379" cy="607" r="9.6" fill="url(#glow)"/><circle cx="379" cy="607" r="4" fill="#2aa2ea"/></g><g filter="url(#blur1)"><circle cx="529" cy="542" r="7.2" fill="url(#glow)"/><circle cx="529" cy="542" r="3" fill="#2aa2ea"/></g><g filter="url(#blur1)"><circle cx="509" cy="590" r="6" fill="url(#glow)"/><circle cx="509" cy="590" r="2.5" fill="#2aa2ea"/></g><g filter="url(#blur1)"><circle cx="624" cy="543" r="8.4" fill="url(#glow)"/><circle cx="624" cy="543" r="3.5" fill="#2aa2ea"/></g><g filter="url(#blur1)"><circle cx="594" cy="618" r="6" fill="url(#glow)"/><circle cx="594" cy="618" r="2.5" fill="#2aa2ea"/></g><path d="M424.5 148H482.8V645H502L451.3 708.5L400.5 645H424.5Z" fill="rgba(226,124,118,0.5)"/><path d="M584.5 148H642.8V645H663L611.5 708.5L561 645H584.5Z" fill="rgba(226,124,118,0.5)"/><path d="M316 713C340 722 400 745 460 752C500 757 560 757 640 745C690 738 730 728 764 719C790 745 825 790 846 826C856 845 862 862 864 877C830 895 800 907 760 915C720 924 680 931 600 937C580 939 560 940 550 940C490 939 420 930 360 915C310 902 265 890 238 878C236 850 240 815 256 790C272 765 298 735 316 713Z" fill="url(#clothBack)"/><ellipse cx="542" cy="836" rx="231" ry="38.5" fill="url(#rip)"/><g fill="none" opacity="0.75"><ellipse cx="542" cy="837" rx="222" ry="34" stroke="#d58a8c" stroke-width="2"/><ellipse cx="542" cy="837" rx="212" ry="31" stroke="#f3c8c9" stroke-width="1.6"/><ellipse cx="542" cy="837" rx="202" ry="28" stroke="#cf8083" stroke-width="2.4"/><ellipse cx="542" cy="837" rx="190" ry="25.5" stroke="#f1c2c3" stroke-width="1.4"/><ellipse cx="542" cy="837" rx="178" ry="23" stroke="#c97a7d" stroke-width="2"/></g><path d="M392 831C410 820 460 813 545 812C620 812 680 816 712 826C690 832 640 834 560 834C480 834 420 834 392 831Z" fill="url(#ripdark)" filter="url(#blur1)"/><path d="M376 835C385 828 398 826 412 827C440 830 480 836 530 836C580 836 640 830 680 828C700 827 712 829 717 834C712 840 690 845 640 847C580 850 500 850 450 846C410 843 385 840 376 835Z" fill="url(#crater)"/><path d="M376 835C385 828 398 826 412 827C440 830 480 836 530 836M600 834C640 830 680 826 700 827C710 828 716 831 717 834" stroke="#3e1414" stroke-width="0.9" fill="none"/><path d="M380 836C392 831 405 829 420 830" stroke="#f4d8d8" stroke-width="1" fill="none" opacity="0.8"/><path d="M534 852V866M546 854V868" stroke="#8a4446" stroke-width="1.2" opacity="0.7"/><path d="M537.5 754C536 760 535 770 534.5 780C533.5 792 532 800 529 808C525 818 512 826 495 832C482 837 470 840 460 842C500 847 580 847 614 842C604 840 594 837 585 832C568 826 555 818 551 808C548 800 546.5 792 545.5 780C545 770 544 760 542.5 754Z" fill="#8f4244" stroke="#3e1212" stroke-width="1"/><path d="M515 836C528 826 534 812 537 798C540 812 546 826 562 836C548 840 528 840 515 836Z" fill="#6b2a2a" opacity="0.7"/><path d="M538 770C538.5 785 537 800 533 812" stroke="#d9a2a2" stroke-width="1.2" fill="none" opacity="0.6"/><path d="M540 757V766M537 761.5H543M539 772V782M536 777H542M538 786V796M535 791H541" stroke="#f3d3d3" stroke-width="1.3" opacity="0.85"/><circle cx="540" cy="745" r="8.2" fill="#9b5252" stroke="#3e1212" stroke-width="1"/><path d="M540 740V750M535.5 745H544.5" stroke="#f6dcdc" stroke-width="1.4"/><circle cx="538" cy="675.5" r="5.5" fill="#8a4646" stroke="#3a1010" stroke-width="0.8"/><ellipse cx="538" cy="676" rx="3" ry="1.6" fill="#f0c8c8"/><path d="M283 823C320 836 380 852 450 864C500 868 600 869 650 866C700 862 760 851 818 841C835 855 850 866 864 877C830 895 800 907 760 915C720 924 680 931 600 937C580 939 560 940 550 940C490 939 420 930 360 915C310 902 265 890 238 878C250 860 265 840 283 823Z" fill="url(#clothFront)"/><path d="M850 885C830 895 800 907 760 915C720 924 680 931 600 937C580 939 560 940 550 940C490 939 420 930 360 915C330 907 310 900 292 893" stroke="#bfb9bb" stroke-width="40" stroke-linecap="round" fill="none" filter="url(#blur8)" clip-path="url(#flapclip)" opacity="0.85"/><path d="M283 823C320 836 380 852 450 864C500 868 600 869 650 866C700 862 760 851 818 841C835 855 850 866 864 877" stroke="#d4d1d2" stroke-width="9" fill="none" filter="url(#blur4)" clip-path="url(#flapclip)" opacity="0.65"/></svg>
<div class="ov" style="left:90px;top:72px"><span style="left:14px;top:28px">7&#8722;fold filter<br>preprocessing</span></div>
<div class="ov" style="left:89px;top:234px"><span style="left:31px;top:35px;line-height:24px">secondary<br>filtration</span></div>
<div class="ov" style="left:89px;top:391px"><span style="left:25px;top:16px">Reverse<br>osmosis<br>purification</span></div>
<div class="ov" style="left:89px;top:551px"><span style="left:26px;top:31px">EDI water<br>treatment</span></div>
<div class="lab" style="left:788px;top:75px">Impurity particle<br>suspension</div>
<div class="lab" style="left:795px;top:257px;word-spacing:4px">Odor, residual<br>heavy metal</div>
<div class="lab" style="left:795px;top:423px;word-spacing:3px">water <span style="letter-spacing:0.4px">molecule</span></div>
<div class="lab" style="left:797px;top:579px;letter-spacing:2px">H20</div>
</body></html>
